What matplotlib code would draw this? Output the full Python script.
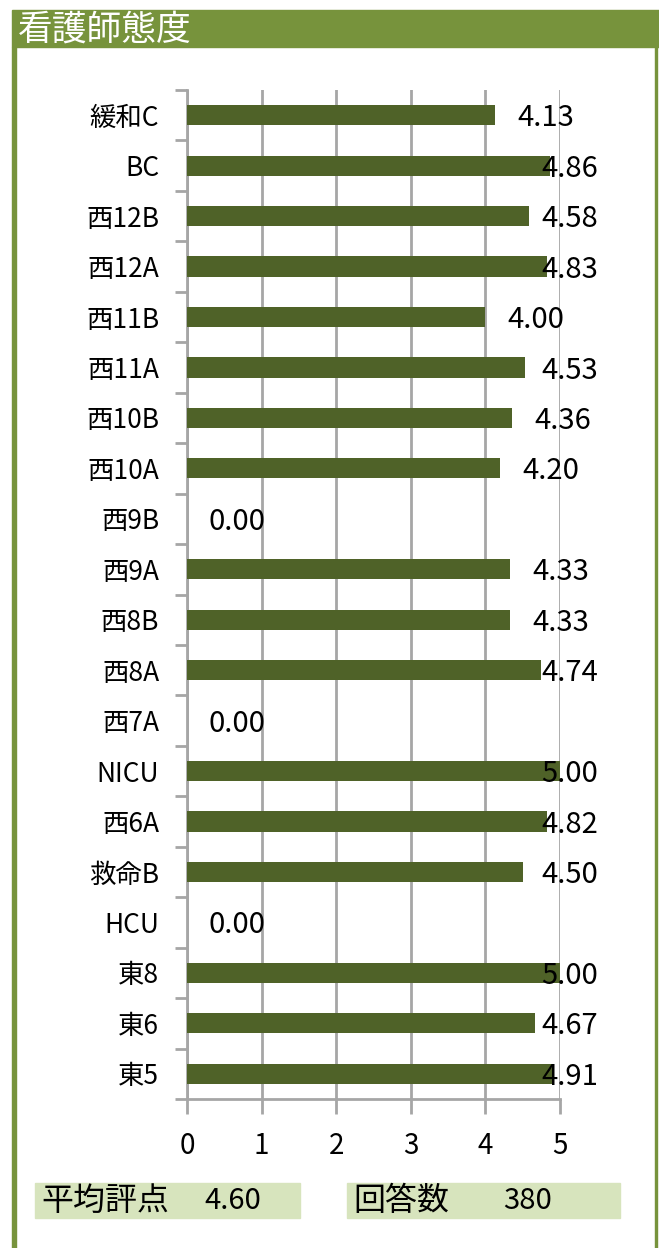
import numpy as np
import matplotlib.pyplot as plt
from matplotlib.patches import Rectangle

plt.rcParams['font.family'] = ['Noto Sans CJK JP', 'DejaVu Sans']

# データ（上から順）
wards = ["緩和C", "BC", "西12B", "西12A", "西11B", "西11A", "西10B", "西10A", "西9B", "西9A",
         "西8B", "西8A", "西7A", "NICU", "西6A", "救命B", "HCU", "東8", "東6", "東5"]
scores = [4.13, 4.86, 4.58, 4.83, 4.00, 4.53, 4.36, 4.20, 0.00, 4.33,
          4.33, 4.74, 0.00, 5.00, 4.82, 4.50, 0.00, 5.00, 4.67, 4.91]
title = "看護師態度"
avg_label = "平均評点"
avg_value = "4.60"
count_label = "回答数"
count_value = "380"

W, H = 659, 1248
fig = plt.figure(figsize=(W / 100, H / 100), dpi=100)

green = "#77933C"
bar_color = "#4F6228"
grid_color = "#A6A6A6"

def fx(px):
    return px / W

def fy(py):
    return 1 - py / H

# 枠とタイトル帯
fig.patches.append(Rectangle((fx(12), fy(47)), fx(659) - fx(12), fy(10) - fy(47),
                             transform=fig.transFigure, color=green, zorder=0))
fig.patches.append(Rectangle((fx(12), 0), fx(4), fy(47), transform=fig.transFigure,
                             color=green, zorder=0))
fig.patches.append(Rectangle((fx(655), 0), fx(2), fy(47), transform=fig.transFigure,
                             color=green, zorder=0))
fig.text(fx(18), fy(30), title, color="white", fontsize=25, va="center", ha="left")

# グラフ本体
ax = fig.add_axes([fx(187), fy(1099), fx(560) - fx(187), fy(90) - fy(1099)])
n = len(wards)
pos = np.arange(n)
ax.barh(pos, scores, height=0.4, color=bar_color, zorder=3)
ax.set_xlim(0, 5)
ax.set_ylim(n - 0.5, -0.5)

ax.set_yticks(pos)
ax.set_yticklabels(wards, fontsize=19)
ax.set_yticks(np.arange(n + 1) - 0.5, minor=True)
ax.tick_params(axis="y", which="major", length=0, pad=20)
ax.tick_params(axis="y", which="minor", length=9, width=2, color=grid_color, direction="out")

ax.set_xticks(range(6))
ax.tick_params(axis="x", which="major", length=11, width=2, color=grid_color, labelsize=20, pad=12)
ax.grid(axis="x", color=grid_color, linewidth=2, zorder=0)

for s in ["top", "right"]:
    ax.spines[s].set_visible(False)
ax.spines["left"].set_color(grid_color)
ax.spines["left"].set_linewidth(2)
ax.spines["bottom"].set_color(grid_color)
ax.spines["bottom"].set_linewidth(2)

# データラベル（グラフ領域内に収める）
offset = 22 / 74.6
limit = (541 - 187) / 74.6
for p, v in zip(pos, scores):
    x = min(v + offset, limit)
    ax.text(x, p + 0.06, f"{v:.2f}", fontsize=21, va="center", ha="left",
            zorder=5, clip_on=False)

# 下部のボックス
fig.patches.append(Rectangle((fx(35), fy(1218)), fx(300) - fx(35), fy(1183) - fy(1218),
                             transform=fig.transFigure, color="#D7E4BD", zorder=0))
fig.patches.append(Rectangle((fx(347), fy(1218)), fx(620) - fx(347), fy(1183) - fy(1218),
                             transform=fig.transFigure, color="#D7E4BD", zorder=0))
fig.text(fx(41), fy(1201), avg_label, fontsize=23, va="center")
fig.text(fx(204), fy(1201), avg_value, fontsize=21, va="center")
fig.text(fx(353), fy(1201), count_label, fontsize=23, va="center")
fig.text(fx(503), fy(1201), count_value, fontsize=21, va="center")

fig.savefig("out.png", dpi=100)
